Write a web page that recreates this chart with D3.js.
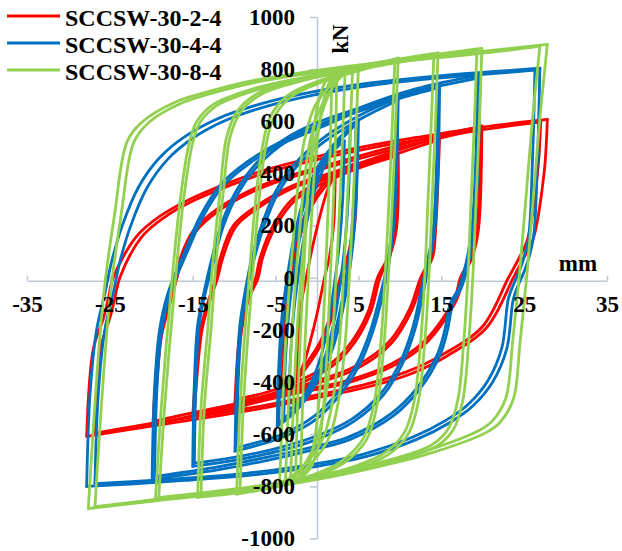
<!DOCTYPE html>
<html><head><meta charset="utf-8">
<script src="https://cdn.jsdelivr.net/npm/d3@7/dist/d3.min.js"></script>
<style>body{margin:0;background:#fff}svg{display:block}</style>
</head><body><svg id="chart" width="622" height="551"></svg>
<script>
const seriesNames = ["SCCSW-30-2-4", "SCCSW-30-4-4", "SCCSW-30-8-4"];
const seriesColors = ["#FF0000", "#0070C0", "#92D050"];
const xTicks = [-35, -25, -15, -5, 5, 15, 25, 35];
const yTicks = [-1000, -800, -600, -400, -200, 0, 200, 400, 600, 800, 1000];
const xTitle = "mm";
const yTitle = "kN";

// Each loop: [displacement mm, load kN] from + peak, down to - peak, back to + peak
const redLoops = [
  [[2.2,400],[2.0,200],[1.5,80],[0.9,0],[0.2,-110],[-0.7,-230],[-1.6,-330],[-2.4,-390],[-2.2,-200],[-1.8,-80],[-1.3,0],[-0.6,110],[0.3,230],[1.2,330],[2.2,400]],
  [[4.8,440],[4.6,220],[4.0,100],[3.0,0],[2.1,-120],[0.6,-250],[-1.4,-350],[-3.0,-410],[-4.3,-440],[-4.1,-220],[-3.7,-90],[-3.3,0],[-2.6,120],[-1.3,250],[0.6,350],[2.6,410],[4.8,440]],
  [[4.6,428],[4.4,215],[3.8,95],[2.8,0],[1.9,-118],[0.4,-245],[-1.6,-342],[-3.1,-400],[-4.2,-428],[-4.0,-215],[-3.6,-88],[-3.1,0],[-2.4,118],[-1.1,245],[0.8,342],[2.8,402],[4.6,428]],
  [[9.8,478],[9.6,190],[8.8,85],[7.6,0],[6.5,-130],[4.5,-250],[2,-335],[-2,-405],[-6,-450],[-9.9,-478],[-9.3,-208],[-8.4,-81],[-7.4,0],[-6.9,73],[-5.3,200],[-2.9,304],[0.4,370],[5,432],[9.8,478]],
  [[9.6,466],[9.4,185],[8.6,82],[7.3,0],[6.2,-128],[4.2,-245],[1.7,-328],[-2.3,-396],[-6.2,-440],[-9.7,-466],[-9.1,-202],[-8.2,-78],[-7.1,0],[-6.6,73],[-5.0,196],[-2.6,298],[0.7,362],[5.2,422],[9.6,466]],
  [[14.8,540],[14.3,177],[14,85],[12.8,0],[11.5,-120],[9,-250],[5,-345],[0,-405],[-5,-455],[-10,-500],[-15,-531],[-14.1,-208],[-13.3,-108],[-12.2,0],[-11.7,73],[-10.1,200],[-7.2,277],[-2.9,354],[2,405],[8,470],[14.8,540]],
  [[14.6,528],[14.1,172],[13.8,82],[12.5,0],[11.2,-118],[8.7,-245],[4.7,-338],[-0.3,-398],[-5.3,-446],[-10.2,-490],[-14.8,-520],[-13.9,-204],[-13.1,-105],[-12,0],[-11.4,73],[-9.8,196],[-6.9,272],[-2.6,348],[2.3,398],[8.2,460],[14.6,528]],
  [[19.9,582],[19.5,190],[18.8,85],[17.6,0],[16.9,-81],[13.3,-246],[9.2,-338],[4,-400],[-2,-440],[-8,-482],[-14,-522],[-19.8,-562],[-19,-235],[-18.1,-119],[-17.1,0],[-16.9,35],[-15,177],[-12,265],[-8.4,330],[-4.5,380],[0.4,425],[6,475],[12,525],[19.9,582]],
  [[19.7,570],[19.3,185],[18.6,82],[17.3,0],[16.6,-80],[13,-242],[8.9,-332],[3.7,-394],[-2.3,-433],[-8.3,-474],[-14.2,-512],[-19.6,-550],[-18.8,-230],[-17.9,-116],[-16.9,0],[-16.6,35],[-14.7,174],[-11.7,260],[-8.1,325],[-4.2,374],[0.7,418],[6.3,467],[12.2,516],[19.7,570]],
  [[27.8,607],[27.4,400],[26.1,150],[24.9,73],[23.7,0],[20.5,-190],[15.7,-300],[11.2,-370],[6,-420],[0,-460],[-6,-497],[-12,-530],[-19.8,-568],[-27.8,-608],[-27,-273],[-25.8,-158],[-25.2,-81],[-24.6,0],[-21.8,158],[-19,235],[-15.4,300],[-10.6,365],[-6.6,410],[0,465],[6,505],[12,538],[20,578],[27.8,607]],
  [[27.0,598],[26.6,395],[25.4,146],[24.3,70],[23.1,0],[20.0,-186],[15.2,-294],[10.7,-362],[5.5,-412],[-0.4,-452],[-6.3,-489],[-12.2,-521],[-19.8,-558],[-26.8,-596],[-26.1,-268],[-25.0,-154],[-24.4,-79],[-23.8,0],[-21.2,155],[-18.5,230],[-15,294],[-10.2,358],[-6.2,402],[0.4,456],[6.3,496],[12.3,529],[20.2,569],[27.0,598]]
];

const blueLoops = [
  [[3.3,525],[3.1,300],[2.7,130],[2.2,0],[1.5,-150],[0.5,-300],[-1,-420],[-2.3,-480],[-3.4,-505],[-3.2,-300],[-2.8,-130],[-2.3,0],[-1.6,150],[-0.6,300],[0.8,420],[2.1,490],[3.3,525]],
  [[4.0,565],[3.8,320],[3.4,140],[2.9,0],[2.2,-145],[1.1,-290],[-0.5,-410],[-2.4,-500],[-4.0,-540],[-3.8,-310],[-3.4,-135],[-2.9,0],[-2.1,148],[-1.0,295],[0.5,425],[2.3,515],[4.0,565]],
  [[5,605],[4.8,350],[4.4,150],[3.8,0],[3,-140],[1.8,-280],[0,-400],[-2.5,-510],[-4.8,-570],[-4.6,-330],[-4.2,-140],[-3.6,0],[-2.8,150],[-1.6,300],[0.2,430],[2.5,530],[5,605]],
  [[4.7,590],[4.5,340],[4.1,145],[3.5,0],[2.7,-138],[1.5,-276],[-0.3,-394],[-2.7,-500],[-4.6,-556],[-4.4,-322],[-4.0,-136],[-3.4,0],[-2.6,146],[-1.4,294],[0.4,422],[2.6,518],[4.7,590]],
  [[9.8,690],[9.6,400],[9.2,180],[8.6,40],[7.9,-70],[6.8,-200],[5.2,-330],[3,-440],[0,-540],[-4,-610],[-9.9,-665],[-9.7,-400],[-9.3,-180],[-8.6,-40],[-7.9,70],[-6.7,200],[-5,330],[-2.6,440],[0.5,530],[5,620],[9.8,690]],
  [[9.6,678],[9.4,392],[9,176],[8.4,38],[7.6,-70],[6.5,-198],[4.9,-325],[2.7,-432],[-0.3,-530],[-4.2,-600],[-9.7,-652],[-9.5,-392],[-9.1,-176],[-8.4,-38],[-7.6,70],[-6.4,198],[-4.7,325],[-2.3,432],[0.8,520],[5.2,608],[9.6,678]],
  [[14.8,740],[14.6,400],[14.2,180],[13.5,50],[12.8,-60],[11.8,-200],[10.3,-330],[8,-450],[4.5,-550],[0,-620],[-5,-668],[-10,-700],[-15,-723],[-14.8,-400],[-14.4,-180],[-13.6,-50],[-12.8,60],[-11.6,200],[-9.8,330],[-7.3,440],[-4,530],[0,595],[5,650],[10,700],[14.8,740]],
  [[14.6,728],[14.4,394],[14,176],[13.2,48],[12.5,-60],[11.5,-198],[10,-326],[7.7,-444],[4.2,-542],[-0.3,-610],[-5.2,-657],[-10.2,-690],[-14.8,-711],[-14.6,-394],[-14.2,-176],[-13.4,-48],[-12.5,60],[-11.3,198],[-9.5,326],[-7,434],[-3.7,522],[0.3,585],[5.2,640],[10.2,690],[14.6,728]],
  [[19.7,777],[19.4,400],[19,200],[18.3,60],[17.4,-40],[16.4,-100],[15.7,-208],[14.8,-300],[12.4,-427],[9.2,-530],[4,-620],[-0.5,-660],[-6,-700],[-12,-737],[-19.9,-773],[-19.6,-420],[-19,-200],[-18,-60],[-16.5,60],[-15.7,120],[-14.1,235],[-11.7,355],[-8.4,445],[-4.5,520],[-0.5,575],[5,650],[12,725],[19.7,777]],
  [[19.4,766],[19.1,396],[18.7,198],[18,58],[17.1,-40],[16.1,-98],[15.4,-204],[14.5,-296],[12.1,-421],[8.9,-522],[3.7,-612],[-0.8,-651],[-6.3,-690],[-12.3,-727],[-19.6,-762],[-19.3,-414],[-18.7,-196],[-17.7,-58],[-16.2,60],[-15.4,118],[-13.8,232],[-11.4,350],[-8.1,440],[-4.2,514],[-0.2,568],[5.3,642],[12.3,716],[19.4,766]],
  [[26.9,804],[26.6,450],[26.1,150],[25.2,40],[24.4,-20],[23.7,-81],[22.9,-273],[21.2,-400],[18.8,-492],[16.1,-554],[12.1,-619],[6,-685],[0,-723],[-8,-757],[-16,-777],[-22,-790],[-27.8,-800],[-27.4,-450],[-26.6,-200],[-25.6,-60],[-24.8,60],[-23.5,200],[-21.5,350],[-19,460],[-16,540],[-12,610],[-7,665],[-1,710],[6,745],[14,772],[21,790],[26.9,804]],
  [[26.3,796],[26.0,446],[25.5,148],[24.6,40],[23.8,-20],[23.1,-80],[22.3,-270],[20.6,-396],[18.2,-487],[15.5,-548],[11.5,-612],[5.4,-678],[-0.6,-716],[-8.6,-750],[-16.6,-770],[-22.4,-782],[-26.8,-790],[-26.4,-446],[-25.6,-198],[-24.6,-60],[-23.8,60],[-22.5,198],[-20.5,346],[-18,455],[-15,535],[-11,604],[-6,658],[0,703],[6.6,738],[14.4,765],[21.2,783],[26.3,796]]
];

const greenLoops = [
  [[2.4,790],[2.2,500],[1.8,150],[1.4,-150],[0.9,-450],[0.2,-640],[-0.8,-730],[-2.0,-770],[-1.7,-450],[-1.3,-150],[-0.8,150],[-0.2,450],[0.6,650],[1.5,750],[2.4,790]],
  [[1.8,785],[1.6,500],[1.2,150],[0.8,-150],[0.3,-450],[-0.4,-640],[-1.2,-730],[-2.6,-775],[-2.3,-450],[-1.9,-150],[-1.4,150],[-0.8,450],[0,650],[0.9,745],[1.8,785]],
  [[3.4,802],[3.1,550],[2.7,250],[2.3,0],[1.8,-250],[1.0,-470],[0,-620],[-1.6,-720],[-3.2,-778],[-2.8,-450],[-2.3,-150],[-1.7,100],[-1.0,350],[-0.2,530],[0.9,660],[2.2,752],[3.4,802]],
  [[5,815],[4.7,550],[4.3,250],[3.9,0],[3.4,-250],[2.6,-470],[1.5,-610],[-0.5,-705],[-2.5,-758],[-4.5,-785],[-4.1,-450],[-3.6,-150],[-3,100],[-2.3,350],[-1.5,530],[-0.3,655],[1.5,735],[3,782],[5,815]],
  [[4.3,808],[4.0,550],[3.6,250],[3.2,0],[2.7,-250],[1.9,-470],[0.8,-610],[-1.1,-705],[-2.8,-755],[-3.8,-780],[-3.4,-450],[-2.9,-150],[-2.3,100],[-1.6,350],[-0.8,530],[0.4,650],[1.9,730],[3,775],[4.3,808]],
  [[9.8,842],[9.5,600],[9.1,300],[8.6,0],[8.1,-250],[7.3,-480],[6,-620],[3.5,-705],[0,-760],[-5,-802],[-9.7,-830],[-9.3,-500],[-8.8,-250],[-8.2,0],[-7.4,300],[-6.6,500],[-5.6,620],[-3.5,700],[0,752],[5,800],[9.8,842]],
  [[9.4,836],[9.1,600],[8.7,300],[8.2,0],[7.7,-250],[6.9,-480],[5.6,-615],[3.1,-700],[-0.4,-755],[-5.2,-797],[-9.3,-822],[-8.9,-500],[-8.4,-250],[-7.8,0],[-7,300],[-6.2,500],[-5.2,615],[-3.1,695],[0.4,748],[5.2,795],[9.4,836]],
  [[14.6,862],[14.3,600],[13.9,300],[13.5,0],[13,-250],[12.2,-480],[11,-600],[8.5,-680],[4,-738],[-2,-783],[-8,-818],[-14.4,-842],[-14,-500],[-13.2,-200],[-12.6,50],[-11.7,330],[-10.9,540],[-9.6,640],[-7,710],[-2,762],[5,812],[14.6,862]],
  [[14.1,856],[13.8,600],[13.4,300],[13,0],[12.5,-250],[11.7,-478],[10.5,-596],[8,-675],[3.6,-733],[-2.4,-778],[-8.3,-812],[-14,-835],[-13.6,-500],[-12.8,-200],[-12.2,50],[-11.3,330],[-10.5,538],[-9.2,636],[-6.6,706],[-1.6,757],[5.3,806],[14.1,856]],
  [[19.9,880],[19.6,600],[19.2,300],[18.8,0],[18.3,-250],[17.6,-470],[16.5,-580],[14.5,-645],[10,-697],[4,-742],[-3,-785],[-10,-818],[-19.5,-850],[-18.8,-500],[-17.7,-81],[-16.5,300],[-15.4,520],[-14.5,600],[-12.5,665],[-8,722],[-2,766],[5,806],[12,846],[19.9,880]],
  [[19.3,874],[19.0,600],[18.6,300],[18.2,0],[17.7,-250],[17.0,-468],[15.9,-576],[13.9,-640],[9.5,-692],[3.5,-738],[-3.4,-780],[-10.4,-812],[-19.1,-843],[-18.4,-500],[-17.3,-81],[-16.1,300],[-15,518],[-14.1,596],[-12.1,660],[-7.6,717],[-1.6,761],[5.4,800],[12.3,840],[19.3,874]],
  [[27.8,895],[26.9,612],[26.1,304],[25.3,0],[24.5,-250],[23.7,-465],[22.1,-554],[20.5,-592],[14,-670],[6,-735],[-2,-785],[-10,-822],[-20,-858],[-27.6,-885],[-25.8,-81],[-24.4,250],[-22.9,523],[-21,600],[-17,675],[-14.1,705],[-8.1,754],[-0.8,792],[10,835],[20,868],[27.8,895]],
  [[26.9,888],[26,605],[25.2,300],[24.4,0],[23.6,-250],[22.8,-460],[21.2,-548],[19.6,-585],[13,-665],[5,-730],[-3,-780],[-11,-817],[-20,-852],[-26.8,-878],[-25,-81],[-23.6,250],[-22.1,520],[-20.2,598],[-16.2,672],[-13.3,702],[-7.3,750],[0,788],[10.5,830],[20.3,862],[26.9,888]]
];

const allSeries = [redLoops, blueLoops, greenLoops];

const svg = d3.select("#chart");
const FONT = "'Liberation Serif','Times New Roman',serif";
const x = d3.scaleLinear().domain([-35, 35]).range([27, 607]);
const y = d3.scaleLinear().domain([-1000, 1000]).range([538.5, 17]);
const axisColor = "#BFC8D6";
const xAxisY = y(0) + 3;

// axis lines and ticks (under the data)
const gxLine = svg.append("g").attr("transform", `translate(0,${xAxisY})`)
  .call(d3.axisBottom(x).tickValues(xTicks).tickSizeInner(-5).tickSizeOuter(0).tickFormat(""));
const gyLine = svg.append("g").attr("transform", `translate(${x(0)},0)`)
  .call(d3.axisLeft(y).tickValues(yTicks).tickSizeInner(7).tickSizeOuter(0).tickFormat(""));
[gxLine, gyLine].forEach(g => {
  g.select(".domain").attr("stroke", axisColor).attr("stroke-width", 1.5);
  g.selectAll(".tick line").attr("stroke", axisColor).attr("stroke-width", 1.5);
});

// loops: each drawn as two branches split at the negative peak, so the peak corners stay sharp
const line = d3.line().x(d => x(d[0])).y(d => y(d[1])).curve(d3.curveCatmullRom.alpha(0.5));
allSeries.forEach((loops, i) => {
  const branches = [];
  loops.forEach(lp => {
    const k = d3.minIndex(lp, d => d[0]);
    branches.push(lp.slice(0, k + 1), lp.slice(k));
  });
  svg.append("g").selectAll("path").data(branches).join("path")
    .attr("d", line)
    .attr("fill", "none")
    .attr("stroke", seriesColors[i])
    .attr("stroke-width", 2.8)
    .attr("stroke-linejoin", "round")
    .attr("stroke-linecap", "round");
});

// tick labels on top
const fmt = d => String(d);
const gxLab = svg.append("g").attr("transform", `translate(0,${xAxisY})`)
  .call(d3.axisBottom(x).tickValues(xTicks).tickFormat(fmt).tickSize(0).tickPadding(15));
const gyLab = svg.append("g").attr("transform", `translate(${x(0)},0)`)
  .call(d3.axisLeft(y).tickValues(yTicks).tickFormat(fmt).tickSize(0).tickPadding(22));
[gxLab, gyLab].forEach(g => {
  g.select(".domain").remove();
  g.selectAll(".tick line").remove();
  g.selectAll("text").attr("font-family", FONT).attr("font-weight", "bold")
    .attr("font-size", 23).attr("fill", "#000");
});

// axis titles
svg.append("text").attr("x", 578).attr("y", 263).attr("dy", "0.35em")
  .attr("text-anchor", "middle").attr("font-family", FONT).attr("font-weight", "bold")
  .attr("font-size", 23).text(xTitle);
svg.append("text").attr("transform", "translate(340,39) rotate(-90)").attr("dy", "0.35em")
  .attr("text-anchor", "middle").attr("font-family", FONT).attr("font-weight", "bold")
  .attr("font-size", 23).text(yTitle);

// legend
const leg = svg.append("g");
seriesNames.forEach((n, i) => {
  const ly = 16 + i * 27;
  leg.append("line").attr("x1", 7).attr("x2", 60).attr("y1", ly).attr("y2", ly)
    .attr("stroke", seriesColors[i]).attr("stroke-width", 3);
  leg.append("text").attr("x", 65).attr("y", ly + 9.5).attr("font-family", FONT)
    .attr("font-weight", "bold").attr("font-size", 24).attr("fill", "#000").text(n);
});
</script>
</body></html>
